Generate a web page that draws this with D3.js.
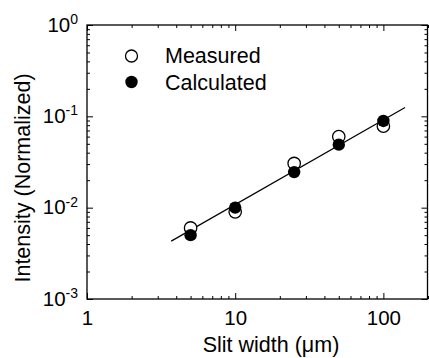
<!DOCTYPE html>
<html>
<head>
<meta charset="utf-8">
<script src="https://cdn.jsdelivr.net/npm/d3@7"></script>
<style>
  body { margin: 0; background: #fff; }
  svg { display: block; font-family: "Liberation Sans", Arial, sans-serif; }
</style>
</head>
<body>
<div id="chart"></div>
<script>
(function () {

// data
const slitWidths = [5, 10, 25, 50, 100];
const measured   = [0.006, 0.009, 0.0305, 0.060, 0.078];
const calculated = [0.005, 0.010, 0.0245, 0.049, 0.089];
// straight fit line, two ends
const fitX = [3.7, 140];
const fitY = [0.0043, 0.125];

const xMajor = [1, 10, 100];
const yMajor = [1e-3, 1e-2, 1e-1, 1];
const yExp = ["-3", "-2", "-1", "0"];

const W = 429, H = 358;
const margin = {top: 25, right: 1, bottom: 59, left: 87};

const svg = d3.select("#chart").append("svg")
    .attr("width", W)
    .attr("height", H);

const x = d3.scaleLog().domain([1, 200]).range([margin.left, W - margin.right]);
const y = d3.scaleLog().domain([1e-3, 1]).range([H - margin.bottom, margin.top]);

// minor tick values
const xMinor = [];
[1, 10, 100].forEach(d => { for (let k = 2; k <= 9; k++) if (d * k <= 200) xMinor.push(d * k); });
const yMinor = [];
[1e-3, 1e-2, 1e-1].forEach(d => { for (let k = 2; k <= 9; k++) yMinor.push(d * k); });

const x0 = x.range()[0], x1 = x.range()[1];
const y0 = y.range()[0], y1 = y.range()[1];

function tickStyle(g) {
  g.select(".domain").remove();
  g.selectAll(".tick line").attr("stroke", "#000").attr("stroke-width", 1);
}

// bottom
svg.append("g").attr("transform", `translate(0,${y0})`)
  .call(d3.axisBottom(x).tickValues(xMinor).tickSize(-3).tickSizeOuter(0).tickFormat(""))
  .call(tickStyle);
svg.append("g").attr("transform", `translate(0,${y0})`)
  .call(d3.axisBottom(x).tickValues(xMajor).tickSize(-6).tickSizeOuter(0).tickPadding(11).tickFormat(d3.format("d")))
  .call(tickStyle)
  .selectAll("text").attr("font-size", 20.5).attr("fill", "#000").attr("font-family", null);
// top
svg.append("g").attr("transform", `translate(0,${y1})`)
  .call(d3.axisTop(x).tickValues(xMinor).tickSize(-3).tickSizeOuter(0).tickFormat(""))
  .call(tickStyle);
svg.append("g").attr("transform", `translate(0,${y1})`)
  .call(d3.axisTop(x).tickValues(xMajor).tickSize(-6).tickSizeOuter(0).tickFormat(""))
  .call(tickStyle);
// left
svg.append("g").attr("transform", `translate(${x0},0)`)
  .call(d3.axisLeft(y).tickValues(yMinor).tickSize(-3).tickSizeOuter(0).tickFormat(""))
  .call(tickStyle);
const yl = svg.append("g").attr("transform", `translate(${x0},0)`)
  .call(d3.axisLeft(y).tickValues(yMajor).tickSize(-6).tickSizeOuter(0).tickPadding(10).tickFormat(""))
  .call(tickStyle);
yl.selectAll(".tick text")
  .attr("fill", "#000").attr("font-family", null).attr("font-size", 20.5)
  .attr("dy", "0.3em")
  .each(function (d, i) {
    const t = d3.select(this);
    t.append("tspan").text("10");
    t.append("tspan").attr("font-size", 14).attr("dy", "-0.55em").text(yExp[i]);
  })
  .attr("x", -9);
// right
svg.append("g").attr("transform", `translate(${x1 - 0.5},0)`)
  .call(d3.axisRight(y).tickValues(yMinor).tickSize(-3).tickSizeOuter(0).tickFormat(""))
  .call(tickStyle);
svg.append("g").attr("transform", `translate(${x1 - 0.5},0)`)
  .call(d3.axisRight(y).tickValues(yMajor).tickSize(-6).tickSizeOuter(0).tickFormat(""))
  .call(tickStyle);

// frame
svg.append("rect")
  .attr("x", x0).attr("y", y1)
  .attr("width", x1 - x0 - 0.5).attr("height", y0 - y1)
  .attr("fill", "none").attr("stroke", "#000").attr("stroke-width", 1.3);

// fit line
svg.append("path")
  .datum(fitX.map((d, i) => [d, fitY[i]]))
  .attr("d", d3.line().x(d => x(d[0])).y(d => y(d[1])))
  .attr("fill", "none").attr("stroke", "#000").attr("stroke-width", 1.2);

// measured (open)
svg.append("g").selectAll("circle")
  .data(slitWidths.map((d, i) => [d, measured[i]]))
  .join("circle")
  .attr("cx", d => x(d[0])).attr("cy", d => y(d[1])).attr("r", 6.2)
  .attr("fill", "#fff").attr("stroke", "#000").attr("stroke-width", 1.3);

// calculated (filled)
svg.append("g").selectAll("circle")
  .data(slitWidths.map((d, i) => [d, calculated[i]]))
  .join("circle")
  .attr("cx", d => x(d[0])).attr("cy", d => y(d[1])).attr("r", 6.2)
  .attr("fill", "#000");

// legend
const legend = svg.append("g");
legend.append("circle").attr("cx", 131.5).attr("cy", 56).attr("r", 6)
  .attr("fill", "#fff").attr("stroke", "#000").attr("stroke-width", 1.3);
legend.append("circle").attr("cx", 131.5).attr("cy", 82).attr("r", 6.2).attr("fill", "#000");
legend.append("text").attr("x", 165).attr("y", 63).attr("font-size", 21.5).text("Measured");
legend.append("text").attr("x", 165).attr("y", 90).attr("font-size", 21.5).text("Calculated");

// axis titles
svg.append("text")
  .attr("x", 271).attr("y", 352)
  .attr("text-anchor", "middle").attr("font-size", 21.5)
  .text("Slit width (\u03bcm)");
svg.append("text")
  .attr("transform", `translate(30,${(y0 + y1) / 2 + 16}) rotate(-90)`)
  .attr("text-anchor", "middle").attr("font-size", 21.5)
  .text("Intensity (Normalized)");

})()
</script>
</body>
</html>
